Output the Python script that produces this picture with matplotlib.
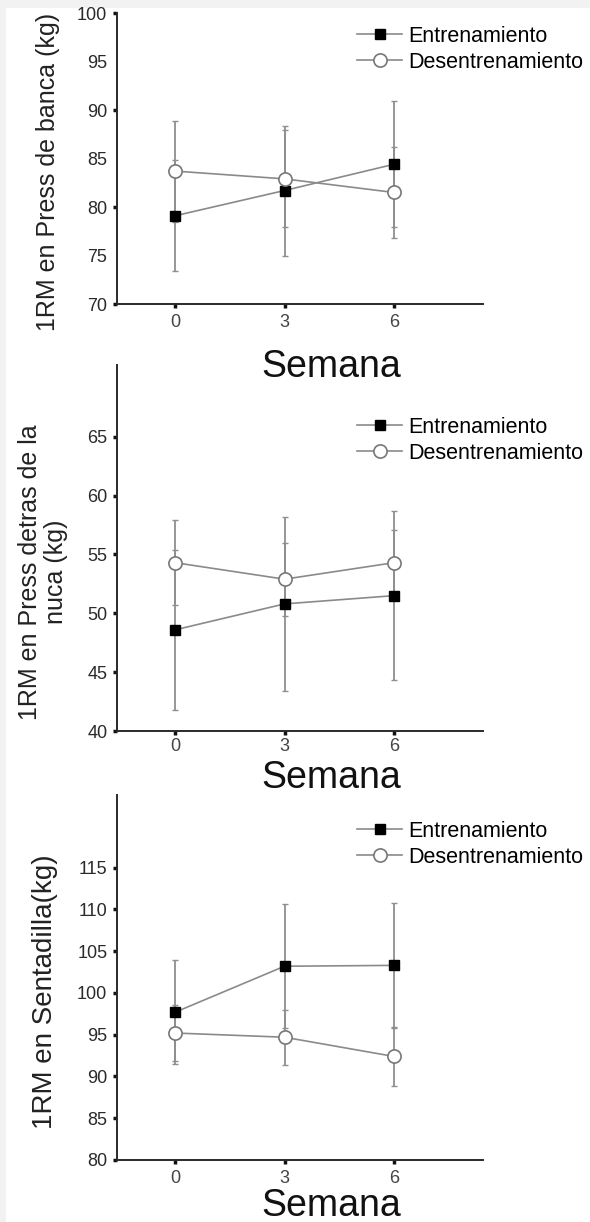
import matplotlib
matplotlib.use("Agg")
import matplotlib.pyplot as plt
from matplotlib.patches import Rectangle

plt.rcParams['font.family'] = ['Liberation Sans', 'DejaVu Sans']

semanas = [0, 3, 6]

banca_ent = [79.1, 81.7, 84.4]
banca_ent_err = [5.7, 6.7, 6.5]
banca_des = [83.7, 82.9, 81.5]
banca_des_err = [5.2, 5.0, 4.7]

nuca_ent = [48.6, 50.8, 51.5]
nuca_ent_err = [6.8, 7.4, 7.2]
nuca_des = [54.3, 52.9, 54.3]
nuca_des_err = [3.6, 3.1, 2.8]

sent_ent = [97.7, 103.2, 103.3]
sent_ent_err = [6.2, 7.4, 7.5]
sent_des = [95.2, 94.7, 92.4]
sent_des_err = [3.3, 3.3, 3.5]

W, H = 590, 1222
fig = plt.figure(figsize=(W / 100, H / 100), dpi=100)
fig.patch.set_facecolor('#f2f2f2')
fig.patches.append(Rectangle((6 / W, 0), 1, 1 - 8 / H, transform=fig.transFigure,
                             facecolor='white', edgecolor='none', zorder=-10))


def px_axes(left, top, right, bottom):
    return fig.add_axes([left / W, 1 - bottom / H, (right - left) / W, (bottom - top) / H])


def panel(ax, ent, ent_err, des, des_err, ylim, yticks, marked, xpad=4):
    line_c = '#8a8a8a'
    ax.errorbar(semanas, ent, yerr=ent_err, fmt='none', ecolor='#8f8f8f',
                elinewidth=1.3, capsize=2.2, capthick=1.0, zorder=1)
    ax.errorbar(semanas, des, yerr=des_err, fmt='none', ecolor='#8f8f8f',
                elinewidth=1.3, capsize=2.2, capthick=1.0, zorder=1)
    ax.plot(semanas, ent, color=line_c, lw=1.2, marker='s', ms=7,
            mfc='black', mec='black', zorder=3, label='Entrenamiento')
    ax.plot(semanas, des, color=line_c, lw=1.2, marker='o', ms=9.5,
            mfc='white', mec='#777777', mew=1.2, zorder=3, label='Desentrenamiento')
    ax.set_xlim(-1.6, 8.45)
    ax.set_ylim(*ylim)
    ax.set_xticks(semanas)
    ax.set_yticks(yticks)
    for s in ['top', 'right']:
        ax.spines[s].set_visible(False)
    for s in ['left', 'bottom']:
        ax.spines[s].set_color('#2a2a2a')
        ax.spines[s].set_linewidth(1.4)
    ax.tick_params(axis='y', length=3, width=2.5, color='#111111',
                   labelsize=13, labelcolor='#2a2a2a', pad=4)
    ax.tick_params(axis='x', length=3, width=2.5, color='#111111',
                   labelsize=13, labelcolor='#444444', pad=xpad)
    for t, v in zip(ax.yaxis.get_major_ticks(), yticks):
        if v not in marked:
            t.tick1line.set_visible(False)
    ax.set_facecolor('none')


def legend(ax, top):
    ax.legend(loc='upper left', bbox_to_anchor=(357 / W, 1 - top / H),
              bbox_transform=fig.transFigure, frameon=False, fontsize=15.5,
              handlelength=2.1, handletextpad=0.28, labelspacing=0.22,
              borderpad=0, borderaxespad=0)


# panel 1
ax1 = px_axes(117, 13, 483, 304)
t1 = [70, 75, 80, 85, 90, 95, 100]
panel(ax1, banca_ent, banca_ent_err, banca_des, banca_des_err,
      (70, 100), t1, [70, 80, 90, 100])
legend(ax1, 26)
fig.text(48 / W, 1 - 172 / H, '1RM en Press de banca (kg)', rotation=90,
         ha='center', va='center', fontsize=18, color='#222222')
fig.text(331 / W, 1 - 377 / H, 'Semana', ha='center', va='baseline',
         fontsize=27, color='#111111')

# panel 2
ax2 = px_axes(117, 365, 483, 731)
t2 = [40, 45, 50, 55, 60, 65]
panel(ax2, nuca_ent, nuca_ent_err, nuca_des, nuca_des_err,
      (40, 71.1), t2, t2, xpad=2)
legend(ax2, 417)
fig.text(43 / W, 1 - 572 / H, '1RM en Press detras de la\nnuca (kg)', rotation=90,
         ha='center', va='center', fontsize=18, color='#222222',
         multialignment='center', linespacing=1.15)
fig.text(331 / W, 1 - 788 / H, 'Semana', ha='center', va='baseline',
         fontsize=27, color='#111111')

# panel 3
ax3 = px_axes(117, 795, 483, 1160)
t3 = [80, 85, 90, 95, 100, 105, 110, 115]
panel(ax3, sent_ent, sent_ent_err, sent_des, sent_des_err,
      (80, 123.7), t3, t3)
legend(ax3, 821)
fig.text(45 / W, 1 - 992 / H, '1RM en Sentadilla(kg)', rotation=90,
         ha='center', va='center', fontsize=20, color='#222222')
fig.text(331 / W, 1 - 1216 / H, 'Semana', ha='center', va='baseline',
         fontsize=27, color='#111111')

fig.savefig('out.png', dpi=100, facecolor=fig.get_facecolor())
